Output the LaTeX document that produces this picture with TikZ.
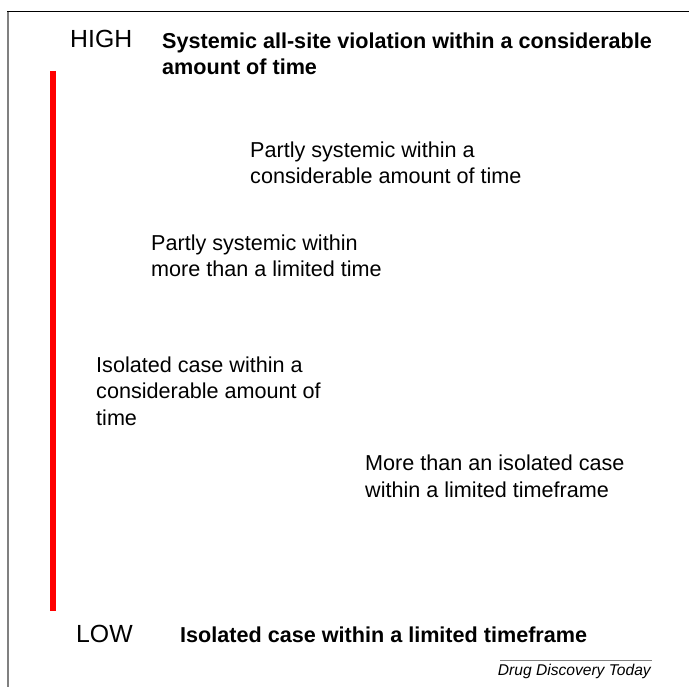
\documentclass[tikz,border=0pt]{standalone}
\usepackage{fontspec}
\setmainfont{Liberation Sans}
\begin{document}
\begin{tikzpicture}[x=1pt, y=-1pt,
    every node/.style={inner sep=0pt, anchor=base west, align=left},
    level/.style={font=\fontsize{24.8}{28}\selectfont},
    case/.style={font=\fontsize{21.6}{26.2}\selectfont},
    extreme/.style={font=\fontsize{21.6}{26}\selectfont\bfseries}]
    \useasboundingbox (0,0) rectangle (689,687);

    % frame
    \draw[gray, line width=2pt] (8,12) -- (8,687);
    \draw[line width=1pt] (7,12) -- (689,12);

    % severity bar
    \coordinate (bartop) at (53,71);
    \coordinate (barbot) at (53,611);
    \draw[red, line width=5.5pt] (bartop) -- (barbot);

    \node[level] (high) at (70,48) {HIGH};
    \node[level] (low) at (76,642) {LOW};

    % multi-line nodes sit on their last baseline
    \node[extreme] (allsite) at (162,75) {Systemic all-site violation within a considerable\\amount of time};
    \node[case] (partlyA) at (250,184) {Partly systemic within a\\considerable amount of time};
    \node[case] (partlyB) at (151,277) {Partly systemic within\\more than a limited time};
    \node[case] (isolA) at (96,425) {Isolated case within a\\considerable amount of\\time};
    \node[case] (morethan) at (365,497) {More than an isolated case\\within a limited timeframe};
    \node[extreme] (isolB) at (180,642) {Isolated case within a limited timeframe};

    % journal credit
    \node[font=\fontsize{15.6}{18}\selectfont\itshape, anchor=base east] (journal) at (651,675) {Drug Discovery Today};
    \draw[gray, line width=0.8pt] (500,660) -- (652,660);
\end{tikzpicture}
\end{document}
